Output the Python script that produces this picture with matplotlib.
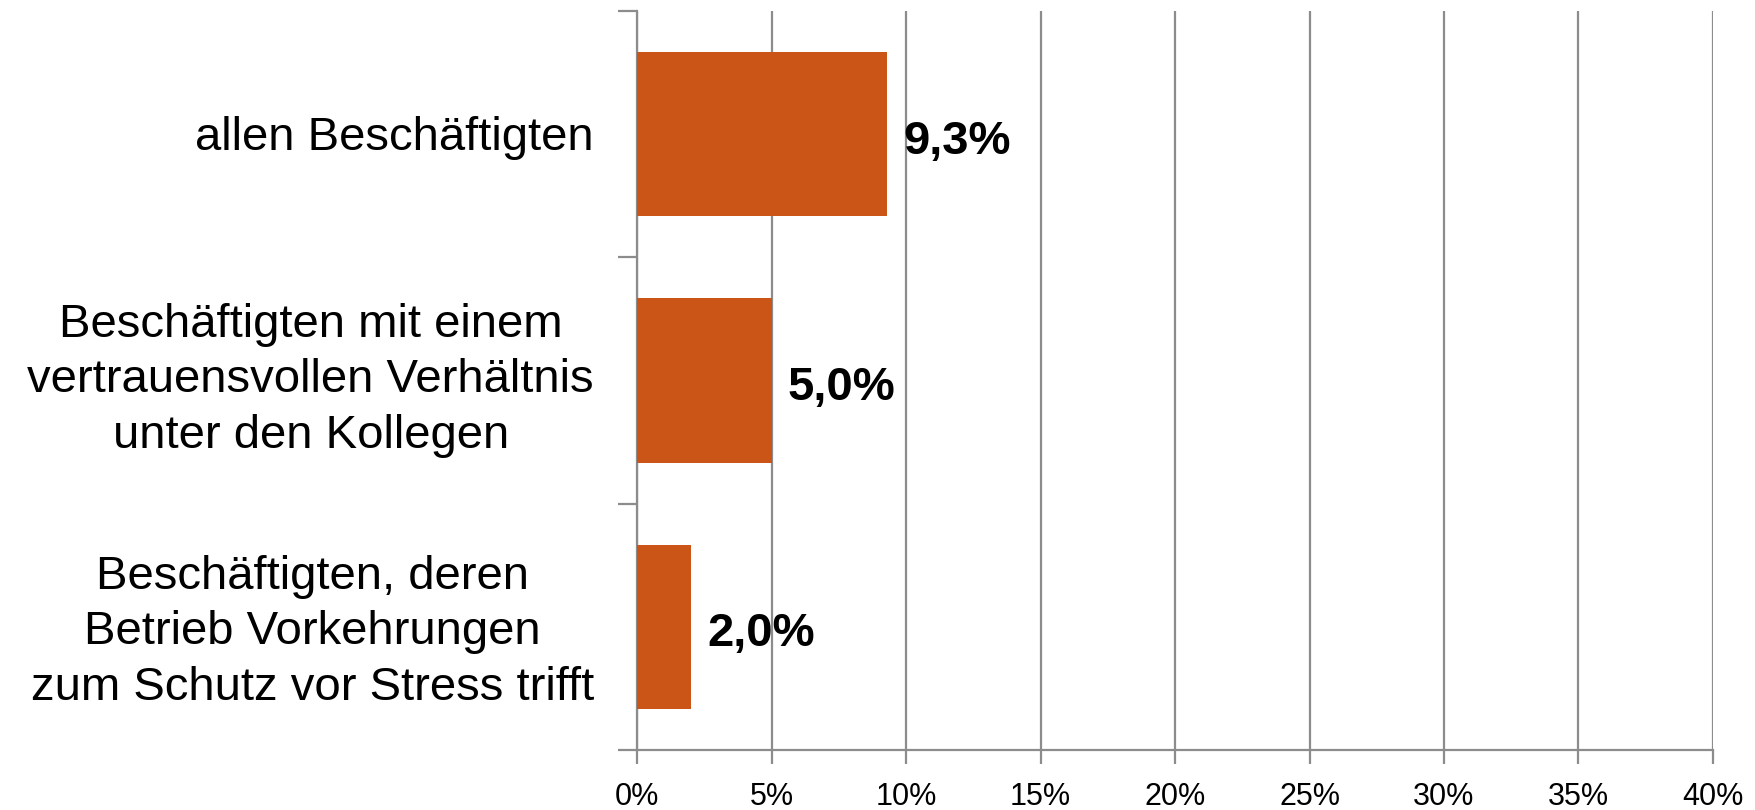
import matplotlib
matplotlib.use("Agg")
import matplotlib.pyplot as plt
from matplotlib.ticker import FixedLocator, FuncFormatter, NullFormatter

plt.rcParams["font.family"] = ["Liberation Sans", "DejaVu Sans"]

# share of employees, per group (percent)
groups = [
    "allen Beschäftigten",
    "Beschäftigten mit einem\nvertrauensvollen Verhältnis\nunter den Kollegen",
    "Beschäftigten, deren\nBetrieb Vorkehrungen\nzum Schutz vor Stress trifft",
]
shares = [9.3, 5.0, 2.0]
value_labels = ["9,3%", "5,0%", "2,0%"]
x_ticks = [0, 5, 10, 15, 20, 25, 30, 35, 40]

BAR_COLOR = "#CB5516"
LINE_GRAY = "#8C8C8C"

fig = plt.figure(figsize=(17.56, 8.10), dpi=100)
ax = fig.add_axes([0.3628, 0.0741, 0.9755 - 0.3628, 0.9864 - 0.0741])

ypos = list(range(len(groups)))
ax.barh(ypos, shares, height=0.667, color=BAR_COLOR, zorder=3)
for y, v, lab in zip(ypos, shares, value_labels):
    ax.text(v + 0.6, y + 0.03, lab, va="center", ha="left",
            fontsize=34, fontweight="bold", color="black", zorder=4)

ax.set_xlim(0, 40)
ax.set_ylim(len(groups) - 0.5, -0.5)

ax.xaxis.set_major_locator(FixedLocator(x_ticks))
ax.xaxis.set_major_formatter(FuncFormatter(lambda v, _: f"{v:.0f}%"))
ax.grid(axis="x", color=LINE_GRAY, linewidth=1.6, zorder=0)
ax.tick_params(axis="x", length=10, width=1.6, color=LINE_GRAY,
               labelsize=22, pad=13)

# category labels: right-aligned block, lines centred within it
ax.set_yticks(ypos)
ax.yaxis.set_major_formatter(NullFormatter())
ax.tick_params(axis="y", which="major", length=0)
label_nudge = [-3, 0, -4]   # vertical fine-tuning in points
for y, name, dy in zip(ypos, groups, label_nudge):
    ax.annotate(name, xy=(0, y), xycoords=("axes fraction", "data"),
                xytext=(-31, dy), textcoords="offset points",
                ha="right", va="center", multialignment="center",
                fontsize=34, linespacing=1.33)
ax.set_yticks([-0.5, 0.5, 1.5, 2.5], minor=True)
ax.tick_params(axis="y", which="minor", length=14, width=1.6,
               color=LINE_GRAY)

for side in ("top", "right"):
    ax.spines[side].set_visible(False)
for side in ("left", "bottom"):
    ax.spines[side].set_color(LINE_GRAY)
    ax.spines[side].set_linewidth(1.6)

fig.savefig("out.png", dpi=100)
